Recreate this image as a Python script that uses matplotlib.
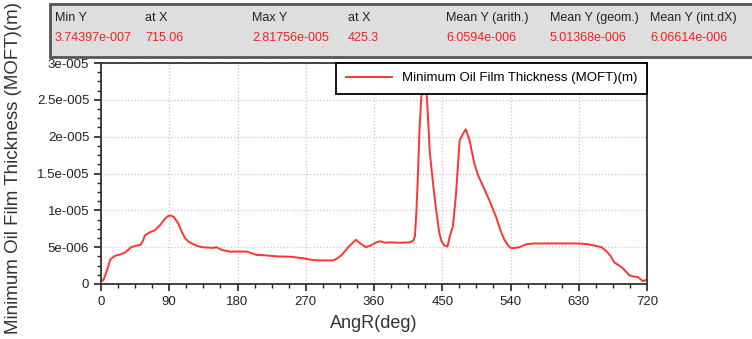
import numpy as np
import matplotlib
matplotlib.use('Agg')
import matplotlib.pyplot as plt
from matplotlib.patches import Rectangle
from matplotlib.ticker import MultipleLocator, FuncFormatter

plt.rcParams['font.family'] = ['Liberation Sans', 'DejaVu Sans']

# crank angle (deg) and minimum oil film thickness (x 1e-6 m)
ang = [0, 3, 5, 9, 12, 18, 25, 32, 40, 46, 52, 55, 58, 64, 71, 78, 84, 88, 92, 96,
       102, 106, 111, 116, 120, 126, 133, 140, 148, 152, 160, 170, 180, 192, 198,
       205, 215, 232, 250, 266, 280, 290, 306, 312, 318, 326, 336, 342, 349, 355,
       362, 368, 375, 381, 395, 407, 412, 414, 416, 418, 420, 422.5, 425.3, 428,
       430, 433.5, 438, 442, 446, 449, 453, 457, 460, 464, 468, 473, 478, 481, 486,
       492, 497, 505, 512, 521, 527, 532, 537, 541, 546, 552, 561, 570, 587, 631,
       642, 649, 660, 666, 672, 677, 682, 688, 694, 697, 703, 708, 712, 715.06, 720]
moft = [0.45, 0.5, 1.0, 2.2, 3.3, 3.8, 4.0, 4.3, 5.0, 5.2, 5.3, 5.8, 6.6, 7.0, 7.3,
        8.0, 8.8, 9.2, 9.3, 9.1, 8.2, 7.2, 6.2, 5.7, 5.5, 5.2, 5.0, 4.95, 4.9, 5.0,
        4.6, 4.4, 4.4, 4.4, 4.2, 3.95, 3.9, 3.75, 3.7, 3.5, 3.25, 3.2, 3.2, 3.5, 4.0,
        5.0, 6.0, 5.5, 5.0, 5.2, 5.6, 5.8, 5.6, 5.65, 5.6, 5.65, 5.9, 6.5, 10, 15, 21,
        25.5, 28.1756, 27, 25, 18, 13.5, 10, 7.0, 5.8, 5.2, 5.1, 6.5, 7.8, 12, 19.5,
        20.5, 21.0, 19.5, 16.5, 14.8, 13, 11.4, 9.1, 7.2, 6.0, 5.2, 4.85, 4.9, 5.0,
        5.4, 5.5, 5.5, 5.5, 5.4, 5.25, 5.0, 4.5, 3.8, 2.9, 2.6, 2.15, 1.5, 1.15, 1.0,
        0.95, 0.6, 0.374397, 0.6]

stat_names = ['Min Y', 'at X', 'Max Y', 'at X', 'Mean Y (arith.)', 'Mean Y (geom.)', 'Mean Y (int.dX)']
stat_vals = ['3.74397e-007', '715.06', '2.81756e-005', '425.3', '6.0594e-006', '5.01368e-006', '6.06614e-006']

x = np.array(ang)
y = np.array(moft) * 1e-6

fig = plt.figure(figsize=(7.52, 3.39), dpi=100)
ax = fig.add_axes([101/752, 1 - 284/339, 546/752, 221/339])

ax.plot(x, y, color='#ff3333', lw=1.4, label='Minimum Oil Film Thickness (MOFT)(m)')

ax.set_xlim(0, 720)
ax.set_ylim(0, 3e-5)
ax.xaxis.set_major_locator(MultipleLocator(90))
ax.xaxis.set_minor_locator(MultipleLocator(22.5))
ax.yaxis.set_major_locator(MultipleLocator(5e-6))
ax.yaxis.set_minor_locator(MultipleLocator(1.25e-6))

def sci(v, pos):
    if abs(v) < 1e-12:
        return '0'
    m, e = f'{v:.3g}'.split('e')
    return f'{m}e{int(e):04d}'

ax.yaxis.set_major_formatter(FuncFormatter(sci))
ax.tick_params(which='both', direction='out', colors='#222222', labelsize=9.5)
ax.tick_params(which='major', length=5, width=1.2)
ax.tick_params(which='minor', length=3, width=1)
ax.grid(True, which='major', color='#c8c8c8', linestyle=':', linewidth=0.9)
for s in ax.spines.values():
    s.set_color('#333333')
    s.set_linewidth(1.3)

ax.set_xlabel('AngR(deg)', fontsize=13, labelpad=5, color='#333333')
fig.text(14/752, 1 - 168/339, 'Minimum Oil Film Thickness (MOFT)(m)', rotation=90,
         ha='center', va='center', fontsize=13.5, color='#333333')

leg = ax.legend(loc='upper right', borderaxespad=0, fancybox=False, framealpha=1,
                edgecolor='black', fontsize=9.5, handlelength=3.5, borderpad=0.7)
leg.get_frame().set_linewidth(1.3)

# statistics box on top
fig.add_artist(Rectangle((50/752, 1 - 57/339), 710/752, 53/339, transform=fig.transFigure,
                         facecolor='#dedede', edgecolor='#555555', lw=2, clip_on=False))
xs = [55, 145, 252, 348, 446, 550, 650]
for xp, n, v in zip(xs, stat_names, stat_vals):
    fig.text(xp/752, 1 - 18/339, n, fontsize=9, va='center', color='#222222')
    fig.text(xp/752, 1 - 38/339, v, fontsize=9, va='center', color='#ee2222')

fig.savefig('out.png', dpi=100)
